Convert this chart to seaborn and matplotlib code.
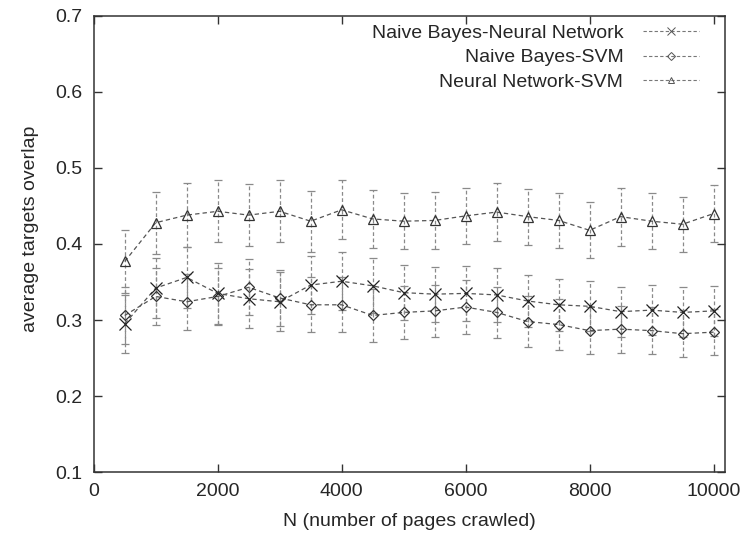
import matplotlib
matplotlib.use("Agg")
import matplotlib.pyplot as plt
from matplotlib.lines import Line2D
import numpy as np
import pandas as pd
import seaborn as sns

pages = [500, 1000, 1500, 2000, 2500, 3000, 3500, 4000, 4500, 5000,
         5500, 6000, 6500, 7000, 7500, 8000, 8500, 9000, 9500, 10000]

nb_nn = [0.295, 0.342, 0.356, 0.335, 0.328, 0.324, 0.346, 0.351, 0.345, 0.336,
         0.334, 0.335, 0.333, 0.325, 0.320, 0.318, 0.311, 0.313, 0.310, 0.312]
nb_nn_err = [0.038, 0.040, 0.040, 0.040, 0.039, 0.039, 0.038, 0.038, 0.036, 0.036,
             0.036, 0.036, 0.035, 0.034, 0.034, 0.033, 0.033, 0.033, 0.033, 0.033]

nb_svm = [0.306, 0.331, 0.324, 0.331, 0.343, 0.329, 0.320, 0.320, 0.306, 0.310,
          0.312, 0.317, 0.310, 0.298, 0.294, 0.286, 0.288, 0.286, 0.282, 0.284]
nb_svm_err = [0.038, 0.038, 0.037, 0.037, 0.037, 0.037, 0.036, 0.036, 0.035, 0.035,
              0.034, 0.036, 0.034, 0.034, 0.034, 0.031, 0.031, 0.031, 0.031, 0.030]

nn_svm = [0.377, 0.428, 0.438, 0.443, 0.438, 0.443, 0.430, 0.445, 0.433, 0.430,
          0.431, 0.437, 0.442, 0.436, 0.431, 0.418, 0.436, 0.430, 0.426, 0.440]
nn_svm_err = [0.041, 0.041, 0.042, 0.041, 0.041, 0.041, 0.040, 0.039, 0.038, 0.037,
              0.037, 0.037, 0.038, 0.037, 0.036, 0.037, 0.038, 0.037, 0.036, 0.037]

labels = ["Naive Bayes-Neural Network", "Naive Bayes-SVM", "Neural Network-SVM"]
values = [nb_nn, nb_svm, nn_svm]
errors = [nb_nn_err, nb_svm_err, nn_svm_err]
markers = ["x", "D", "^"]
msizes = [8, 5, 6.5]

sns.set_theme(style="ticks")
plt.rcParams["font.family"] = ["Liberation Sans", "DejaVu Sans"]

fig = plt.figure(figsize=(7.48, 5.40), dpi=100)
ax = fig.add_axes([0.1253, 0.1259, 0.8444, 0.8445])

df = pd.DataFrame({
    "N": pages * 3,
    "overlap": nb_nn + nb_svm + nn_svm,
    "pair": [labels[0]] * len(pages) + [labels[1]] * len(pages) + [labels[2]] * len(pages),
})

line_col = "#555555"
bar_col = "#8a8a8a"

# dashed connecting lines
sns.lineplot(data=df, x="N", y="overlap", hue="pair", palette=[line_col] * 3,
             linewidth=0.9, legend=False, ax=ax, zorder=2)
for ln in ax.get_lines():
    ln.set_dashes((3.5, 2.5))

# error bars: thin dashed grey with small caps
for vals, errs in zip(values, errors):
    eb = ax.errorbar(pages, vals, yerr=errs, fmt="none", ecolor=bar_col,
                     elinewidth=0.9, capsize=2.8, capthick=0.9, zorder=1)
    for lc in eb[2]:
        lc.set_linestyle((0, (3, 2)))

# point markers
for vals, mk, ms in zip(values, markers, msizes):
    if mk == "x":
        ax.plot(pages, vals, linestyle="none", marker=mk, markersize=ms,
                markeredgecolor="#222222", markeredgewidth=0.9, zorder=3)
    else:
        ax.plot(pages, vals, linestyle="none", marker=mk, markersize=ms,
                markerfacecolor="none", markeredgecolor="#333333",
                markeredgewidth=0.9, zorder=3)

ax.set_xlim(0, 10190)
ax.set_ylim(0.1, 0.7)
ax.set_xticks([0, 2000, 4000, 6000, 8000, 10000])
ax.set_yticks([0.1, 0.2, 0.3, 0.4, 0.5, 0.6, 0.7])
ax.set_yticklabels(["0.1", "0.2", "0.3", "0.4", "0.5", "0.6", "0.7"])
ax.tick_params(direction="in", length=6, width=1.0, color="#333333",
               labelsize=14, top=True, right=True, pad=8)
for sp in ax.spines.values():
    sp.set_visible(True)
    sp.set_color("#333333")
    sp.set_linewidth(1.1)

ax.set_xlabel("N (number of pages crawled)", fontsize=14, labelpad=9)
ax.set_ylabel("average targets overlap", fontsize=14)
ax.yaxis.set_label_coords(-0.087, 0.533)

handles = []
for mk, ms in zip(markers, [6, 4, 5]):
    handles.append(Line2D([], [], color="#777777", linewidth=0.8,
                          dashes=(3, 2), marker=mk, markersize=ms,
                          markerfacecolor="none", markeredgecolor="#555555",
                          markeredgewidth=0.7))
ax.legend(handles, labels, loc="upper right", frameon=False, markerfirst=False,
          fontsize=14, handlelength=2.9, handletextpad=1.0, labelspacing=0.36,
          borderaxespad=0.3, bbox_to_anchor=(0.98, 1.012))

fig.savefig("out.png", dpi=100)
